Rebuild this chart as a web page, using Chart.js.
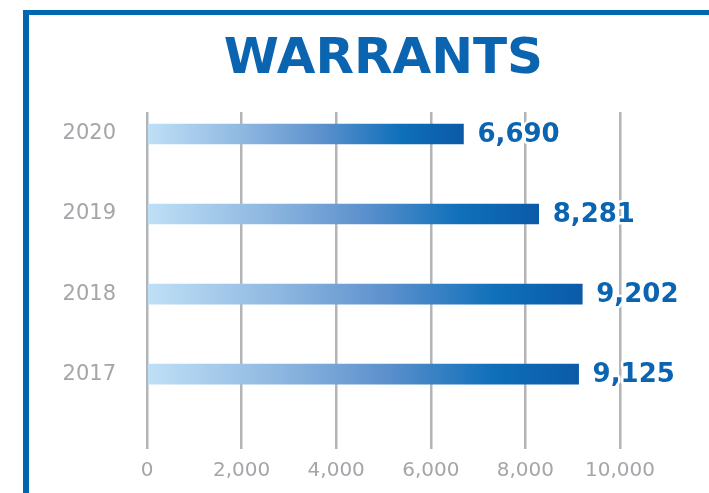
<!DOCTYPE html>
<html>
<head>
<meta charset="utf-8">
<script src="https://cdn.jsdelivr.net/npm/chart.js@4/dist/chart.umd.min.js"></script>
<style>
html,body{margin:0;padding:0;background:#fff;overflow:hidden;}
#frame{position:absolute;left:23px;top:10px;width:800px;height:600px;border-top:5px solid #0067b1;border-left:6px solid #0067b1;}
#chart{position:absolute;left:0;top:0;}
</style>
</head>
<body>
<div id="frame"></div>
<canvas id="chart" width="709" height="493"></canvas>
<script>

/* ============================= */
/* DATA */
/* ============================= */

const years = ["2020","2019","2018","2017"]
const warrants = [6690, 8281, 9202, 9125]
const xTicks = [0, 2000, 4000, 6000, 8000, 10000]

const BLUE = "#0b64b0"
const GRAY = "#a4a6a9"
const FONT = "'DejaVu Sans', sans-serif"


/* ============================= */
/* BAR GRADIENT */
/* ============================= */

function barGradient(c){

const chart = c.chart
if(!chart.chartArea || c.type!=="data") return "#5a8fcc"

const x0 = chart.scales.x.getPixelForValue(0)
const x1 = chart.scales.x.getPixelForValue(c.parsed.x)
const g = chart.ctx.createLinearGradient(x0,0,x1,0)

g.addColorStop(0,"#bfe0f6")
g.addColorStop(0.3,"#8fb8e1")
g.addColorStop(0.55,"#5d91cd")
g.addColorStop(0.8,"#0f70ba")
g.addColorStop(1,"#0b5aa8")

return g

}


/* ============================= */
/* VALUE LABELS */
/* ============================= */

const valueLabels = {
id:"valueLabels",
afterDatasetsDraw(chart){

const ctx = chart.ctx
const meta = chart.getDatasetMeta(0)

ctx.save()
ctx.font = "bold 26px " + FONT
ctx.textAlign = "left"
ctx.textBaseline = "middle"
ctx.lineJoin = "round"

meta.data.forEach((bar,i)=>{

const txt = warrants[i].toLocaleString("en-US")
const x = bar.x + 14
const y = bar.y + 1

ctx.strokeStyle = "#fff"
ctx.lineWidth = 5
ctx.strokeText(txt,x,y)
ctx.fillStyle = BLUE
ctx.fillText(txt,x,y)

})

ctx.restore()

}
}


/* ============================= */
/* CHART */
/* ============================= */

new Chart(
document.getElementById("chart"),
{
type:"bar",

data:{
datasets:[
{
label:"Warrants",
data:warrants.map((v,i)=>({x:v,y:i})),
backgroundColor:barGradient,
barThickness:20,
borderWidth:0
}
]
},

plugins:[valueLabels],

options:{
indexAxis:"y",
animation:false,
responsive:false,
devicePixelRatio:1,

layout:{
padding:{left:0,right:89,top:0,bottom:0}
},

plugins:{
legend:{display:false},
tooltip:{enabled:false},
title:{
display:true,
text:"WARRANTS",
color:BLUE,
fullSize:false,
font:{family:FONT,size:50,weight:"bold",lineHeight:1.2},
padding:{top:30,bottom:22}
}
},

scales:{
x:{
type:"linear",
min:0,
max:10000,
afterBuildTicks:s=>{ s.ticks = xTicks.map(v=>({value:v})) },
grid:{color:"#b3b4b7",lineWidth:2.5,drawTicks:false},
border:{display:false},
ticks:{
color:GRAY,
padding:10,
font:{family:FONT,size:20}
},
afterFit:s=>{ s.height = 44 }
},

y:{
type:"linear",
reverse:true,
offset:false,
min:-0.275,
max:3.936,
afterBuildTicks:s=>{ s.ticks = years.map((_,i)=>({value:i})) },
grid:{display:false,drawTicks:false},
border:{display:false},
ticks:{
color:GRAY,
padding:31,
font:{family:FONT,size:21},
callback:v=>years[v]
},
afterFit:s=>{ s.width = 147 }
}
}
}
});

</script>
</body>
</html>
